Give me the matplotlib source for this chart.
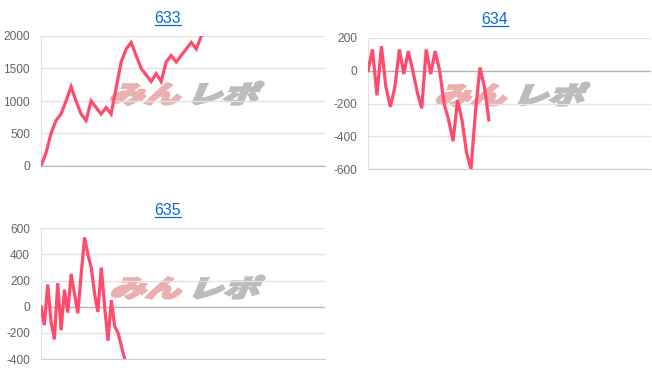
import matplotlib
matplotlib.use("Agg")
import matplotlib.pyplot as plt
import matplotlib.transforms as mtransforms
from matplotlib.textpath import TextPath
from matplotlib.patches import PathPatch
from matplotlib.font_manager import FontProperties
from matplotlib.lines import Line2D

titles = ["633", "634", "635"]
values_633 = [0, 200, 500, 700, 800, 1000, 1220, 1000, 800, 700, 1000, 900, 800, 900, 800,
              1200, 1600, 1800, 1900, 1700, 1500, 1400, 1300, 1420, 1300, 1600, 1700, 1600,
              1700, 1800, 1900, 1800, 2000]
values_634 = [0, 130, -150, 150, -100, -220, -100, 130, -20, 120, 0, -130, -230, 130, -20,
              120, 0, -200, -300, -430, -180, -300, -500, -600, -250, 20, -100, -300]
values_635 = [0, -140, 170, -115, -250, 180, -180, 130, -45, 250, 100, -50, 250, 530, 400,
              300, 100, -40, 300, 0, -260, 50, -150, -200, -300, -400]
yticks_633 = [0, 500, 1000, 1500, 2000]
yticks_634 = [-600, -400, -200, 0, 200]
yticks_635 = [-400, -200, 0, 200, 400, 600]

W, H = 652, 382
DPI = 100
fig = plt.figure(figsize=(W / DPI, H / DPI), dpi=DPI)
fig.patch.set_facecolor("white")

LINE = "#ff4b6e"
GRID = "#e2e2e2"
ZERO = "#b4b4b4"
TICK = "#666666"
LINK = "#0b6bcc"

panels = [
    (values_633, yticks_633, titles[0], (41, 325, 36, 166), 56.7, (168, 18.5)),
    (values_634, yticks_634, titles[1], (368, 651, 38, 169), 63.2, (495, 19.5)),
    (values_635, yticks_635, titles[2], (41, 325, 228.3, 359), 84.8, (168, 210.5)),
]

px = mtransforms.Affine2D().scale(1.0 / DPI) + fig.dpi_scale_trans

def add_watermark(x0, y_base_top):
    prop = FontProperties(family="Noto Sans CJK JP", weight="heavy")
    for txt, col, dx in [("みん", "#eab0b0", 0), ("レポ", "#bcbcbc", 78)]:
        tp = TextPath((0, 0), txt, size=33, prop=prop)
        tr = (mtransforms.Affine2D().skew_deg(16, 0).scale(1.08, 0.74)
              .translate(x0 + dx, H - y_base_top) + px)
        patch = PathPatch(tp, transform=tr, facecolor=col, edgecolor=col,
                          lw=1.6, joinstyle="miter", zorder=-1)
        fig.patches.append(patch)

texts = []
for vals, ticks, title, (l, r, t, b), xmax, (tx, ty) in panels:
    ax = fig.add_axes([l / W, (H - b) / H, (r - l) / W, (b - t) / H])
    ax.set_facecolor("none")
    xs = list(range(len(vals)))
    ax.plot(xs, vals, color=LINE, lw=2.3, solid_joinstyle="miter", zorder=3)
    ax.set_xlim(0, xmax)
    ax.set_ylim(min(ticks), max(ticks))
    ax.set_yticks(ticks)
    ax.set_yticklabels([str(v) for v in ticks])
    ax.set_xticks([])
    for v in ticks:
        ax.axhline(v, color=ZERO if v == 0 else GRID, lw=1.0, zorder=1)
    for s in ["top", "right"]:
        ax.spines[s].set_visible(False)
    ax.spines["left"].set_color(GRID)
    ax.spines["bottom"].set_color(ZERO if min(ticks) == 0 else "#d0d0d0")
    ax.tick_params(axis="y", length=0, pad=8, labelsize=8.6, labelcolor=TICK)
    for lab in ax.get_yticklabels():
        lab.set_fontfamily("Liberation Sans")
    tt = fig.text(tx / W, 1 - ty / H, title, ha="center", va="center",
                  fontsize=11.5, color=LINK, fontfamily="Liberation Sans")
    texts.append(tt)

add_watermark(108, 103)
add_watermark(434, 104)
add_watermark(109, 297)

fig.canvas.draw()
rend = fig.canvas.get_renderer()
for tt in texts:
    bb = tt.get_window_extent(rend)
    y = bb.y0 + 1
    fig.add_artist(Line2D([bb.x0 / W, bb.x1 / W], [y / H, y / H],
                          transform=fig.transFigure, color=LINK, lw=0.9))

fig.savefig("out.png", dpi=DPI, facecolor="white")
